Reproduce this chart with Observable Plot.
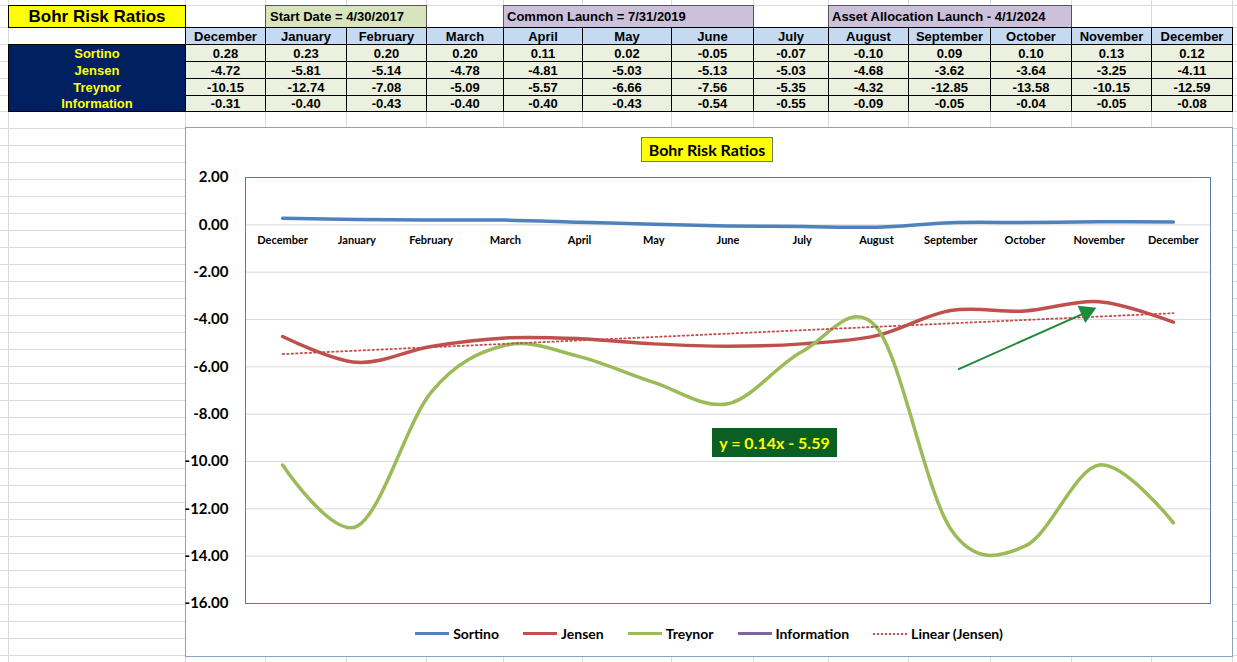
<!DOCTYPE html>
<html>
<head>
<meta charset="utf-8">
<script src="https://cdn.jsdelivr.net/npm/d3@7"></script>
<script src="https://cdn.jsdelivr.net/npm/@observablehq/plot@0.6"></script>
<style>
  html, body { margin: 0; padding: 0; background: #fff; overflow: hidden; }
  #page { position: relative; width: 1237px; height: 662px; overflow: hidden; font-family: "Liberation Sans", Arial, sans-serif; }
  .gl { position: absolute; background: #dadada; }
  .cell { position: absolute; box-sizing: border-box; display: flex; align-items: center; justify-content: center; font-weight: bold; font-size: 13px; color: #000; white-space: nowrap; }
  #chartbox { position: absolute; left: 185px; top: 127px; width: 1048px; height: 530px; box-sizing: border-box; border: 1px solid #8aa2c0; background: #fff; font-family: Lato, "Open Sans", sans-serif; }
  #chartbox svg { position: absolute; left: 0; top: 0; }
  #ctitle { position: absolute; left: 455px; top: 9px; width: 132px; height: 25px; box-sizing: border-box; background: #ffff00; border: 1px solid #6d7f5a; font-weight: bold; font-size: 16px; display: flex; align-items: center; justify-content: center; color: #000; z-index: 2; }
  #trendlabel { position: absolute; left: 526px; top: 300px; width: 125px; height: 29px; background: #0c5f22; color: #ffff00; font-weight: bold; font-size: 16px; display: flex; align-items: center; justify-content: center; z-index: 2; }
  #legend { position: absolute; left: 0; right: 0; top: 497px; display: flex; justify-content: center; gap: 24px; font-weight: bold; font-size: 14px; color: #000; z-index: 2; }
  #legend .item { display: flex; align-items: center; }
  #legend .sw { width: 34px; height: 0; margin-right: 4px; }
</style>
</head>
<body>
<div id="page"></div>
<script>
// ---------- data ----------
const months = ["December","January","February","March","April","May","June","July","August","September","October","November","December"];
const seriesNames = ["Sortino","Jensen","Treynor","Information"];
const sortino     = [0.28, 0.23, 0.20, 0.20, 0.11, 0.02, -0.05, -0.07, -0.10, 0.09, 0.10, 0.13, 0.12];
const jensen      = [-4.72, -5.81, -5.14, -4.78, -4.81, -5.03, -5.13, -5.03, -4.68, -3.62, -3.64, -3.25, -4.11];
const treynor     = [-10.15, -12.74, -7.08, -5.09, -5.57, -6.66, -7.56, -5.35, -4.32, -12.85, -13.58, -10.15, -12.59];
const information = [-0.31, -0.40, -0.43, -0.40, -0.40, -0.43, -0.54, -0.55, -0.09, -0.05, -0.04, -0.05, -0.08];
const yTicks = [2, 0, -2, -4, -6, -8, -10, -12, -14, -16];
const sheetTitle = "Bohr Risk Ratios";
const chartTitle = "Bohr Risk Ratios";
const startLabel = "Start Date = 4/30/2017";
const commonLabel = "Common Launch = 7/31/2019";
const assetLabel = "Asset Allocation Launch - 4/1/2024";
const trendLabel = "y = 0.14x - 5.59";
const legendLabels = ["Sortino","Jensen","Treynor","Information","Linear (Jensen)"];
// annotation arrow (data units: month index, value)
const arrowAnno = [{x1: 9.10, y1: -6.11, x2: 10.91, y2: -3.58}];

// ---------- spreadsheet ----------
const page = document.getElementById("page");
const colX = [0,8,185,265,346,426,503,582,671,753,828,908,990,1071,1151,1232,1237];
const rowY = [0,5,27,44,61,78,95,111];
while (rowY[rowY.length-1] < 662) rowY.push(rowY[rowY.length-1] + 17);

colX.slice(1).forEach(x => {
  const d = document.createElement("div"); d.className = "gl";
  Object.assign(d.style, {left: x + "px", top: "0px", width: "1px", height: "662px"});
  page.appendChild(d);
});
rowY.slice(1).forEach(y => {
  const d = document.createElement("div"); d.className = "gl";
  Object.assign(d.style, {left: "0px", top: y + "px", width: "1237px", height: "1px"});
  page.appendChild(d);
});

function cell(c0, c1, r0, r1, text, css) {
  const d = document.createElement("div"); d.className = "cell";
  const x0 = colX[c0], x1 = colX[c1], y0 = rowY[r0], y1 = rowY[r1];
  Object.assign(d.style, {left: x0 + "px", top: y0 + "px", width: (x1 - x0 + 1) + "px", height: (y1 - y0 + 1) + "px", border: "1px solid #000"}, css || {});
  if (text != null) d.textContent = text;
  page.appendChild(d);
  return d;
}
// title
cell(1, 2, 1, 2, sheetTitle, {background: "#ffff00", fontSize: "17px"});
// label boxes
cell(3, 5, 1, 2, startLabel, {background: "#d8e4bc", justifyContent: "flex-start", paddingLeft: "4px", border: "1px solid #555"});
cell(6, 9, 1, 2, commonLabel, {background: "#ccc0da", justifyContent: "flex-start", paddingLeft: "3px", border: "1px solid #555"});
cell(10, 13, 1, 2, assetLabel, {background: "#ccc0da", justifyContent: "flex-start", paddingLeft: "3px", border: "1px solid #555"});
// header row
months.forEach((m, i) => cell(2 + i, 3 + i, 2, 3, m, {background: "#c5d9f1"}));
// navy label block
cell(1, 2, 3, 7, null, {background: "#002060"});
seriesNames.forEach((s, r) => cell(1, 2, 3 + r, 4 + r, s, {background: "transparent", border: "none", color: "#ffff00"}));
// values
[sortino, jensen, treynor, information].forEach((arr, r) => {
  arr.forEach((v, i) => cell(2 + i, 3 + i, 3 + r, 4 + r, v.toFixed(2), {background: "#ebf1de"}));
});

// ---------- chart ----------
const box = document.createElement("div"); box.id = "chartbox"; page.appendChild(box);
const t = document.createElement("div"); t.id = "ctitle"; t.textContent = chartTitle; box.appendChild(t);

const rows = months.map((m, i) => ({i, month: m, sortino: sortino[i], jensen: jensen[i], treynor: treynor[i], information: information[i]}));
// linear trend of Jensen (x = 1..n)
const mx = d3.mean(jensen, (d, i) => i + 1), my = d3.mean(jensen);
const slope = d3.sum(jensen, (d, i) => (i + 1 - mx) * (d - my)) / d3.sum(jensen, (d, i) => (i + 1 - mx) ** 2);
const intercept = my - slope * mx;
const trend = rows.map(d => ({i: d.i, y: intercept + slope * (d.i + 1)}));
const head = arrowAnno.map(a => ({x: a.x1 + 0.955 * (a.x2 - a.x1), y: a.y1 + 0.955 * (a.y2 - a.y1)}));

const tickFmt = d => d.toFixed(2);
const chart = Plot.plot({
  width: 1046, height: 500,
  marginLeft: 59, marginRight: 22, marginTop: 49, marginBottom: 25,
  x: {domain: [-0.5, 12.5], axis: null},
  y: {domain: [-16, 2], axis: null},
  style: {fontFamily: "Lato, 'Open Sans', sans-serif", background: "transparent", overflow: "visible"},
  marks: [
    Plot.gridY(yTicks, {stroke: "#d9d9d9", strokeOpacity: 1}),
    Plot.axisY(yTicks, {tickSize: 0, tickPadding: 17, tickFormat: tickFmt, fontWeight: "bold", fontSize: 15, fill: "#000", label: null}),
    Plot.frame({stroke: "#5a7aa2"}),
    Plot.text(rows, {x: "i", y: 0, text: "month", dy: 16, fontWeight: "bold", fontSize: 11, fill: "#000"}),
    Plot.line(rows, {x: "i", y: "sortino", stroke: "#4f81bd", strokeWidth: 3.5, curve: "cardinal"}),
    Plot.line(rows, {x: "i", y: "jensen", stroke: "#c0504d", strokeWidth: 3.5, curve: "cardinal"}),
    Plot.line(rows, {x: "i", y: "treynor", stroke: "#9bbb59", strokeWidth: 3.5, curve: "cardinal"}),
    Plot.line(trend, {x: "i", y: "y", stroke: "#c0504d", strokeWidth: 1.8, strokeDasharray: "1.5,3"}),
    Plot.link(arrowAnno, {x1: "x1", y1: "y1", x2: "x2", y2: "y2", stroke: "#1e8a3c", strokeWidth: 2}),
    Plot.dot(head, {x: "x", y: "y", symbol: "triangle", r: 7, fill: "#1e8a3c", stroke: "none", rotate: 66})
  ]
});
box.appendChild(chart);

const tl = document.createElement("div"); tl.id = "trendlabel"; tl.textContent = trendLabel; box.appendChild(tl);

const legend = document.createElement("div"); legend.id = "legend"; box.appendChild(legend);
const legendStyles = [
  "3px solid #4f81bd", "3px solid #c0504d", "3px solid #9bbb59", "3px solid #8064a2", "2px dotted #c0504d"
];
legendLabels.forEach((lab, k) => {
  const it = document.createElement("div"); it.className = "item";
  const sw = document.createElement("div"); sw.className = "sw"; sw.style.borderTop = legendStyles[k];
  const tx = document.createElement("span"); tx.textContent = lab;
  it.appendChild(sw); it.appendChild(tx); legend.appendChild(it);
});
</script>
</body>
</html>
